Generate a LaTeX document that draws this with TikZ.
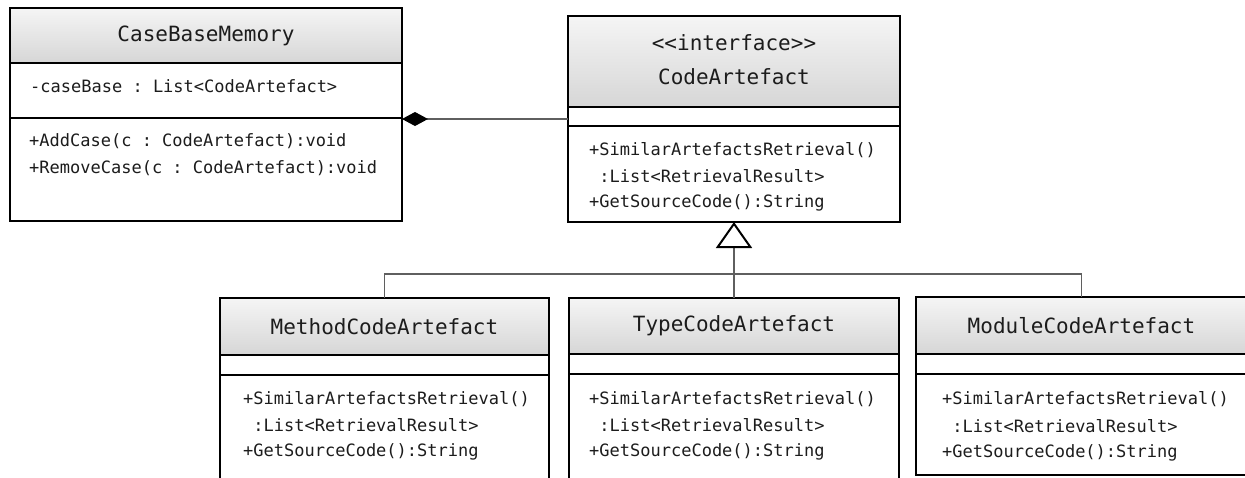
\documentclass[tikz,border=0pt]{standalone}
\usepackage{fontspec}
\setmonofont{DejaVu Sans Mono}
\usetikzlibrary{arrows.meta}
\definecolor{hdtop}{RGB}{245,245,245}
\definecolor{hdbot}{RGB}{214,214,214}
\definecolor{ink}{RGB}{28,28,28}
\definecolor{wirecol}{RGB}{95,95,95}
\begin{document}
\begin{tikzpicture}[x=1pt,y=1pt,
  box/.style={draw=black, line width=2pt, fill=white, inner sep=0pt, outer sep=0pt},
  head/.style={box, top color=hdtop, bottom color=hdbot, text=ink,
    font=\ttfamily\fontsize{21}{21}\selectfont},
  sep/.style={draw=black, line width=2pt},
  member/.style={anchor=west, inner sep=0pt, text=ink,
    font=\ttfamily\fontsize{17}{17}\selectfont},
  title/.style={inner sep=0pt, text=ink, font=\ttfamily\fontsize{21}{21}\selectfont},
  wire/.style={draw=wirecol, line width=1.2pt},
]
\useasboundingbox (0,0) rectangle (1245,-477);
\clip (0,0) rectangle (1245,-477);

% ---------- CaseBaseMemory ----------
\node[box, minimum width=392, minimum height=213] (cbm) at (206,-114.5) {};
\node[head, minimum width=392, minimum height=55, anchor=north] (cbmH) at (cbm.north) {CaseBaseMemory};
\draw[sep] (cbm.west |- 0,-118) -- (cbm.east |- 0,-118);
\node[member] (cbmA1) at (30,-86) {-caseBase : List<CodeArtefact>};
\node[member] (cbmO1) at (29,-141) {+AddCase(c : CodeArtefact):void};
\node[member] (cbmO2) at (29,-168) {+RemoveCase(c : CodeArtefact):void};

% ---------- CodeArtefact (interface) ----------
\node[box, minimum width=332, minimum height=206] (ca) at (734,-119) {};
\node[head, minimum width=332, minimum height=91, anchor=north] (caH) at (ca.north) {};
\node[title] (caS) at (734,-43) {<<interface>>};
\node[title] (caT) at (734,-77) {CodeArtefact};
\draw[sep] (ca.west |- 0,-126) -- (ca.east |- 0,-126);
\node[member] (caO1) at (589,-150) {+SimilarArtefactsRetrieval()};
\node[member] (caO2) at (589,-176) {\hphantom{+}:List<RetrievalResult>};
\node[member] (caO3) at (589,-203) {+GetSourceCode():String};

% ---------- MethodCodeArtefact ----------
\node[box, minimum width=329, minimum height=192] (mca) at (384.5,-394) {};
\node[head, minimum width=329, minimum height=57, anchor=north] (mcaH) at (mca.north) {MethodCodeArtefact};
\draw[sep] (mca.west |- 0,-375) -- (mca.east |- 0,-375);
\node[member] (mcaO1) at (243,-399) {+SimilarArtefactsRetrieval()};
\node[member] (mcaO2) at (243,-425) {\hphantom{+}:List<RetrievalResult>};
\node[member] (mcaO3) at (243,-452) {+GetSourceCode():String};

% ---------- TypeCodeArtefact ----------
\node[box, minimum width=330, minimum height=192] (tca) at (734,-394) {};
\node[head, minimum width=330, minimum height=56, anchor=north] (tcaH) at (tca.north) {TypeCodeArtefact};
\draw[sep] (tca.west |- 0,-374) -- (tca.east |- 0,-374);
\node[member] (tcaO1) at (589,-399) {+SimilarArtefactsRetrieval()};
\node[member] (tcaO2) at (589,-425) {\hphantom{+}:List<RetrievalResult>};
\node[member] (tcaO3) at (589,-452) {+GetSourceCode():String};

% ---------- ModuleCodeArtefact ----------
\node[box, minimum width=331, minimum height=178] (mod) at (1081.5,-386) {};
\node[head, minimum width=331, minimum height=57, anchor=north] (modH) at (mod.north) {ModuleCodeArtefact};
\draw[sep] (mod.west |- 0,-374) -- (mod.east |- 0,-374);
\node[member] (modO1) at (942,-399) {+SimilarArtefactsRetrieval()};
\node[member] (modO2) at (942,-426) {\hphantom{+}:List<RetrievalResult>};
\node[member] (modO3) at (942,-453) {+GetSourceCode():String};

% ---------- composition ----------
\draw[wire, {Diamond[length=26pt, width=14pt, color=black, fill=black]}-]
  (cbm.east |- ca.west) -- (ca.west);

% ---------- generalization ----------
\coordinate (bus) at (734,-274);
\draw[wire] (mca.north) |- (bus) -| (mod.north);
\draw[wire] (tca.north) -- (bus);
\draw[wire, -{Triangle[length=26pt, width=36pt, line width=2pt, color=black, fill=white]}]
  (bus) -- (ca.south);
\end{tikzpicture}
\end{document}
